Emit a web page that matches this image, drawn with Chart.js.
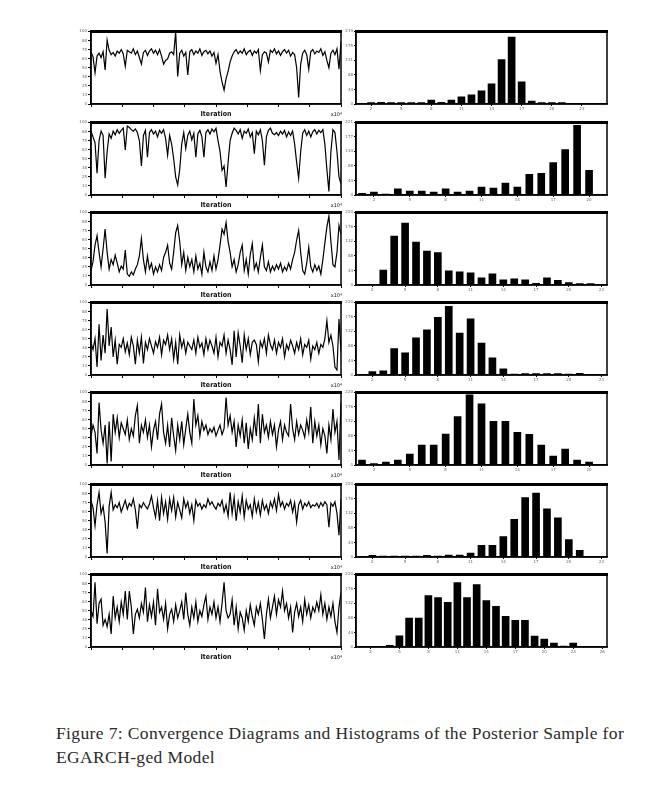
<!DOCTYPE html>
<html>
<head>
<meta charset="utf-8">
<script src="https://cdn.jsdelivr.net/npm/chart.js@4/dist/chart.umd.min.js"></script>
<style>
body{margin:0;background:#fff;width:653px;height:785px;position:relative;overflow:hidden}
canvas{position:absolute}
.cap{position:absolute;left:56px;font-family:"Liberation Serif",serif;font-size:17.5px;letter-spacing:0.37px;color:#2a2a2a;white-space:nowrap}
</style>
</head>
<body>
<div class="cap" style="top:723px">Figure 7: Convergence Diagrams and Histograms of the Posterior Sample for</div>
<div class="cap" style="top:747px">EGARCH-ged Model</div>
<script>
// trace values (0 = bottom of the frame, 100 = top)
var trace1 = [72,65,43,66,70,64,72,47,88,74,68,71,66,73,70,75,69,52,74,72,70,76,68,73,64,55,71,74,67,73,76,70,74,68,75,66,55,60,62,70,72,68,99,38,70,74,66,71,40,72,75,68,73,70,76,67,72,74,69,73,66,71,56,68,45,30,19,35,45,58,66,72,75,69,73,70,76,68,72,74,67,73,70,75,46,68,72,70,58,74,71,76,69,73,67,72,75,70,74,66,71,68,50,9,55,70,74,68,48,72,75,69,73,71,76,67,72,60,50,70,74,68,76,48,86];
var trace2 = [88,80,72,30,75,88,82,23,60,84,78,88,83,90,85,89,92,62,95,93,90,88,91,86,75,40,82,89,52,86,90,84,88,80,89,85,90,78,55,82,70,50,25,14,35,70,86,64,82,88,76,85,52,84,89,80,52,86,90,84,91,87,92,75,60,34,40,11,45,75,85,92,89,84,90,78,88,85,91,80,86,57,88,83,90,75,41,80,89,92,85,83,86,82,88,84,89,80,87,82,88,70,45,23,60,85,90,82,88,80,87,90,84,89,86,90,70,35,5,60,90,86,60,25,15];
var trace3 = [20,32,55,68,45,25,50,77,45,22,35,28,41,30,18,26,22,48,15,12,18,14,22,28,40,64,35,18,40,22,30,15,25,18,28,20,38,45,55,30,22,45,72,82,60,28,45,20,38,25,35,18,40,22,30,15,45,25,18,32,20,40,22,35,55,77,70,86,60,45,25,35,18,28,45,55,20,35,15,42,57,22,30,18,38,55,25,20,32,18,26,20,28,22,30,18,25,20,30,22,35,45,62,75,45,20,15,30,52,25,18,28,20,26,15,35,58,80,95,60,28,25,45,82,70];
var trace4 = [45,35,50,11,70,20,55,30,91,40,66,25,48,15,42,38,50,32,44,28,52,40,15,48,30,52,16,45,35,50,40,30,46,38,52,28,48,42,55,35,50,22,45,15,55,38,48,30,45,40,35,48,30,52,38,44,28,50,35,48,40,30,52,25,45,40,55,30,48,35,14,61,25,58,40,17,55,35,50,28,45,48,42,18,46,38,50,30,55,42,35,48,30,45,38,50,25,42,35,48,40,30,45,35,50,28,42,38,48,22,40,35,45,30,42,38,50,75,45,55,40,11,7,77,32];
var trace5 = [40,55,45,16,86,48,30,55,2,60,5,70,45,65,38,58,50,42,62,35,50,40,68,82,30,55,45,62,38,55,25,48,60,35,70,84,45,30,55,25,65,40,20,55,35,60,28,50,70,45,30,91,55,68,40,60,48,55,42,50,45,52,40,48,55,42,50,93,55,68,45,60,25,55,40,62,30,58,22,50,35,65,40,84,30,70,45,55,38,60,42,55,25,48,60,35,55,45,40,84,50,35,60,42,55,48,38,62,45,80,30,60,40,55,28,50,40,16,55,35,77,45,60,7,86];
var trace6 = [78,68,43,72,89,60,70,48,5,70,89,65,72,68,75,62,70,78,66,74,70,80,65,39,72,68,75,70,66,73,84,68,55,78,50,82,60,76,52,80,64,82,55,75,65,54,80,68,76,60,72,50,78,70,74,66,72,68,80,72,76,70,66,74,70,78,62,72,56,89,60,82,50,76,62,84,55,78,66,72,56,80,62,75,58,78,65,72,60,76,68,80,64,86,70,76,66,74,70,78,62,75,48,72,78,66,74,70,76,68,72,70,74,68,75,70,76,72,41,74,70,76,60,30,80];
var trace7 = [50,42,89,32,60,66,30,38,28,45,18,70,40,55,35,62,45,77,38,77,55,18,45,52,40,60,48,82,35,58,42,62,30,80,48,55,38,60,25,45,52,35,58,40,50,62,38,75,45,30,55,40,62,35,50,42,58,70,38,55,45,62,40,55,35,60,89,50,40,45,65,30,55,25,48,40,23,50,35,58,42,30,55,45,60,38,11,45,66,40,55,70,45,65,55,77,50,60,40,55,20,48,60,42,55,35,65,45,58,40,55,48,62,50,72,45,60,38,55,42,60,35,20,55,75];

// histogram bin heights, one entry per bin (empty bins kept as 0)
var hist1 = [0,4,5,4,4,4,4,12,5,12,22,28,40,61,134,202,67,9,4,4,4,0,0,0,0];
var hist2 = [5,9,3,19,12,12,9,19,9,12,24,21,36,24,63,66,99,138,212,75,0];
var hist3 = [0,0,45,148,188,130,103,98,43,40,37,22,34,16,19,16,5,22,14,7,4,4,0];
var hist4 = [0,10,13,80,67,113,137,175,208,127,170,97,52,19,3,4,4,4,4,3,5,0,0];
var hist5 = [15,4,9,15,33,60,60,94,147,213,185,132,132,99,93,60,27,48,15,9,0];
var hist6 = [0,5,3,3,3,3,5,3,6,6,12,35,35,62,114,180,194,146,119,53,20,0,0];
var hist7 = [0,0,0,5,34,88,88,156,150,135,195,150,189,141,123,93,81,81,33,24,12,3,12,0,0,0];
var histTop = [219,221,220,220,220,220,220];

var traces = [trace1, trace2, trace3, trace4, trace5, trace6, trace7];
var hists = [hist1, hist2, hist3, hist4, hist5, hist6, hist7];
var rowTops = [31, 122, 212, 302, 392, 484, 574];

var framePlugin = {
  id: 'frame',
  afterDraw: function (chart) {
    var a = chart.chartArea, c = chart.ctx;
    c.save();
    c.strokeStyle = '#000';
    c.lineWidth = 1.5;
    c.strokeRect(a.left, a.top, a.right - a.left, a.bottom - a.top);
    c.lineWidth = 3;
    c.beginPath(); c.moveTo(a.left - 1, a.top); c.lineTo(a.right + 1, a.top); c.stroke();
    if (chart.config.type === 'line') {
      c.fillStyle = '#111';
      c.textAlign = 'center';
      c.textBaseline = 'middle';
      c.font = 'bold 7px "DejaVu Sans Condensed", sans-serif';
      c.fillText('Iteration', (a.left + a.right) / 2, a.bottom + 10);
      c.font = '5px "DejaVu Sans", sans-serif';
      c.textAlign = 'right';
      c.fillText('x10\u2074', a.right + 1, a.bottom + 11);
    }
    c.restore();
  }
};

function makeCanvas(left, y0, w, h) {
  var cv = document.createElement('canvas');
  cv.width = w; cv.height = h;
  cv.style.left = left + 'px'; cv.style.top = y0 + 'px';
  cv.style.width = w + 'px'; cv.style.height = h + 'px';
  document.body.appendChild(cv);
  return cv;
}

var tiny = { size: 4, family: 'DejaVu Sans' };

for (var r = 0; r < 7; r++) {
  var rowY = rowTops[r];
  // trace plot
  var pts = traces[r].map(function (v, i) { return { x: i, y: v }; });
  new Chart(makeCanvas(78, rowY - 3, 267, 96), {
    type: 'line',
    data: { datasets: [{ data: pts, borderColor: '#000', borderWidth: 1.2, pointRadius: 0, tension: 0 }] },
    options: {
      responsive: false, animation: false,
      layout: { padding: { top: 3, right: 4, left: 0, bottom: 0 } },
      plugins: { legend: { display: false }, tooltip: { enabled: false } },
      scales: {
        x: {
          type: 'linear', min: 0, max: pts.length - 1,
          ticks: { stepSize: (pts.length - 1) / 8, display: false },
          grid: { drawOnChartArea: false, tickLength: 3, color: '#000' },
          border: { color: '#000', width: 1.5 },
          afterFit: function (s) { s.height = 20; }
        },
        y: {
          min: 0, max: 100,
          ticks: { stepSize: 12.5, font: tiny, color: '#666', padding: 1, callback: function (v) { return Math.round(v); } },
          grid: { drawOnChartArea: false, tickLength: 3, color: '#000' },
          border: { color: '#000', width: 1.5 },
          afterFit: function (s) { s.width = 13; }
        }
      }
    },
    plugins: [framePlugin]
  });

  // histogram
  var h = hists[r];
  var labels = h.map(function (v, i) { return String(i + 1); });
  new Chart(makeCanvas(344, rowY - 3, 267, 86), {
    type: 'bar',
    data: { labels: labels, datasets: [{ data: h, backgroundColor: '#000', barThickness: 7 }] },
    options: {
      responsive: false, animation: false,
      layout: { padding: { top: 3, right: 4, left: 0, bottom: 0 } },
      plugins: { legend: { display: false }, tooltip: { enabled: false } },
      scales: {
        x: {
          ticks: {
            font: tiny, color: '#666', padding: 1, maxRotation: 0, autoSkip: false,
            callback: function (v, i) { return i % 3 === 1 ? this.getLabelForValue(v) : ''; }
          },
          grid: {
            drawOnChartArea: false, tickLength: 2, offset: false,
            color: function (ctx) { return ctx.index % 3 === 1 ? '#000' : 'rgba(0,0,0,0)'; }
          },
          border: { color: '#000', width: 1.5 },
          afterFit: function (s) { s.height = 10; }
        },
        y: {
          min: 0, max: histTop[r],
          ticks: { stepSize: histTop[r] / 10, font: tiny, color: '#666', padding: 1, callback: function (v) { return Math.round(v); } },
          grid: { drawOnChartArea: false, tickLength: 2, color: '#000' },
          border: { color: '#000', width: 1.5 },
          afterFit: function (s) { s.width = 12; }
        }
      }
    },
    plugins: [framePlugin]
  });
}
</script>
</body>
</html>
